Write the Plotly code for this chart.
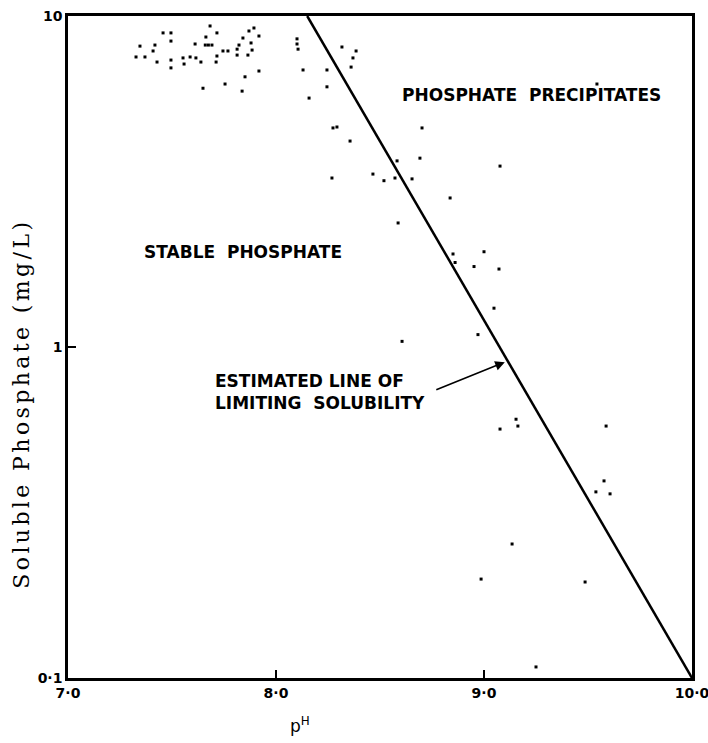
import math
import plotly.graph_objects as go

# ---- data ----
x_ticks = [7.0, 8.0, 9.0, 10.0]
x_tick_labels = ["7·0", "8·0", "9·0", "10·0"]
y_ticks = [0.1, 1, 10]
y_tick_labels = ["0·1", "1", "10"]

# estimated line of limiting solubility (pH, mg/L)
line_ph = [8.15, 10.0]
line_p = [10.0, 0.1]

# observed points (pH, soluble phosphate mg/L)
obs_ph = [7.346, 7.327, 7.370, 7.409, 7.418, 7.428, 7.457, 7.495, 7.495, 7.495,
          7.495, 7.553, 7.558, 7.587, 7.611, 7.615, 7.639, 7.649, 7.663, 7.660,
          7.675, 7.683, 7.692, 7.716, 7.716, 7.712, 7.755, 7.745, 7.769, 7.813,
          7.813, 7.822, 7.841, 7.837, 7.851, 7.870, 7.880, 7.885, 7.865, 7.894,
          7.918, 7.918, 8.101, 8.101, 8.106, 8.130, 8.159, 8.245, 8.245, 8.317,
          8.385, 8.370, 8.361, 8.274, 8.293, 8.356, 8.702, 8.692, 8.582, 8.466,
          8.519, 8.572, 8.654, 8.269, 8.837, 9.077, 8.587, 8.851, 8.861, 9.000,
          8.952, 9.072, 9.048, 8.971, 8.606, 9.154, 9.163, 9.077, 9.587, 9.577,
          9.538, 9.606, 9.135, 8.986, 9.486, 9.250, 9.543]
obs_p = [8.11, 7.52, 7.52, 7.84, 8.17, 7.26, 8.89, 8.89, 8.40, 7.36,
         6.97, 7.47, 7.16, 7.52, 8.23, 7.47, 7.26, 6.05, 8.64, 8.17,
         8.17, 9.33, 8.17, 8.89, 7.57, 7.26, 6.23, 7.84, 7.84, 7.94,
         7.62, 8.17, 8.58, 5.93, 6.55, 9.01, 8.29, 7.89, 7.62, 9.20,
         8.70, 6.82, 8.53, 8.23, 7.94, 6.87, 5.65, 6.87, 6.11, 8.06,
         7.84, 7.47, 7.01, 4.59, 4.62, 4.19, 4.59, 3.72, 3.65, 3.33,
         3.18, 3.24, 3.22, 3.24, 2.82, 3.52, 2.37, 1.91, 1.80, 1.94,
         1.75, 1.72, 1.31, 1.09, 1.04, 0.605, 0.577, 0.565, 0.577, 0.394,
         0.365, 0.360, 0.254, 0.199, 0.195, 0.108, 6.23]

label_font = dict(family="DejaVu Sans", size=17, color="black")
tick_font = dict(family="DejaVu Sans", size=14, color="black")

fig = go.Figure()
fig.add_trace(go.Scatter(x=obs_ph, y=obs_p, mode="markers",
                         marker=dict(color="black", size=3, symbol="square"),
                         showlegend=False, hoverinfo="skip"))
fig.add_trace(go.Scatter(x=line_ph, y=line_p, mode="lines",
                         line=dict(color="black", width=2.5),
                         showlegend=False, hoverinfo="skip"))

fig.update_layout(
    width=708, height=743,
    margin=dict(l=68, r=16, t=16, b=65),
    paper_bgcolor="white", plot_bgcolor="white",
    font=dict(family="DejaVu Sans", color="black"),
    showlegend=False,
)
fig.update_xaxes(range=[7, 10], tickvals=x_ticks,
                 ticktext=["<b>%s</b>" % t for t in x_tick_labels],
                 ticks="inside", ticklen=8, tickwidth=2, tickcolor="black",
                 showline=True, linewidth=2.5, linecolor="black", mirror=True,
                 showgrid=False, zeroline=False, tickfont=tick_font,
                 automargin=False, ticklabeloverflow="allow")
fig.update_yaxes(type="log", range=[-1, 1], tickvals=y_ticks,
                 ticktext=["<b>%s</b>" % t for t in y_tick_labels],
                 ticks="inside", ticklen=8, tickwidth=2, tickcolor="black",
                 showline=True, linewidth=2.5, linecolor="black", mirror=True,
                 showgrid=False, zeroline=False, tickfont=tick_font,
                 automargin=False, ticklabeloverflow="allow")

fig.add_annotation(x=9.226, y=0.761, xref="x", yref="y", showarrow=False,
                   text="<b>PHOSPHATE\u00a0\u00a0PRECIPITATES</b>", font=label_font)
fig.add_annotation(x=7.841, y=0.287, xref="x", yref="y", showarrow=False,
                   text="<b>STABLE\u00a0\u00a0PHOSPHATE</b>", font=label_font)
fig.add_annotation(x=7.697, y=-0.137, xref="x", yref="y", showarrow=False,
                   xanchor="left", align="left",
                   text="<b>ESTIMATED\u00a0LINE\u00a0OF<br>LIMITING\u00a0\u00a0SOLUBILITY</b>",
                   font=label_font)
# arrow pointing at the line
fig.add_annotation(x=9.10, y=math.log10(0.90), xref="x", yref="y",
                   ax=-72, ay=29, axref="pixel", ayref="pixel",
                   showarrow=True, arrowhead=2, arrowsize=1.2, arrowwidth=1.6,
                   arrowcolor="black", standoff=0, text=" ")

# axis titles
fig.add_annotation(x=0.372, y=-0.071, xref="paper", yref="paper", showarrow=False,
                   xanchor="center", yanchor="middle",
                   text="p<sup>H</sup>",
                   font=dict(family="DejaVu Sans", size=17, color="black"))
fig.add_annotation(x=-0.0737, y=0.414, xref="paper", yref="paper", showarrow=False,
                   xanchor="center", yanchor="middle",
                   textangle=-90, text="Soluble Phosphate (mg/L)",
                   font=dict(family="DejaVu Serif", size=22, color="black"))

post_js = """
var gd = document.getElementById('{plot_id}');
function spaceTitle(){
  gd.querySelectorAll('.annotation-text').forEach(function(t){
    if (t.textContent.indexOf('Soluble') === 0) { t.style.letterSpacing = '3.4px'; }
  });
}
spaceTitle();
gd.on('plotly_afterplot', spaceTitle);
"""

fig.write_html("out.html", post_script=post_js)
